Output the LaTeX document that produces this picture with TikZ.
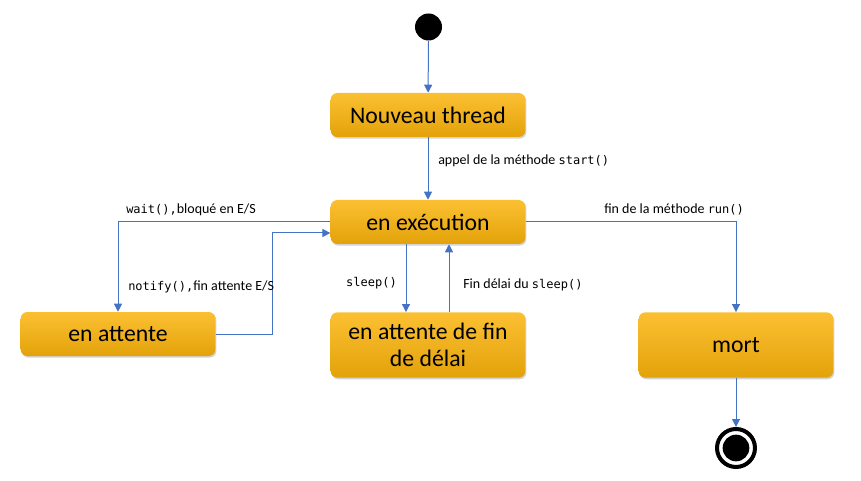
\documentclass[tikz,border=0pt]{standalone}
\usepackage{fontspec}
\setmainfont{Carlito}
\newfontfamily\codefont{DejaVu Sans Mono}
\usetikzlibrary{arrows.meta,shadows,calc}
\definecolor{bleu}{HTML}{4472C4}
\definecolor{ortop}{HTML}{FBC032}
\definecolor{ormid}{HTML}{F9B80A}
\definecolor{orbot}{HTML}{E3A20A}
\newcommand{\code}[1]{{\codefont\fontsize{9}{11}\selectfont #1}}
\tikzset{
	etat/.style = {rounded corners = 5pt, minimum width = 146pt, minimum height = 33pt,
		top color = ortop, middle color = ormid, bottom color = orbot,
		drop shadow = {shadow xshift = .8pt, shadow yshift = -1.2pt, opacity = .35},
		font = \fontsize{17.8}{20}\selectfont, align = center, inner sep = 2pt},
	fl/.style = {draw = bleu, line width = .75pt, -{Triangle[length = 6pt, width = 6pt]}},
	lbl/.style = {font = \fontsize{10.5}{12}\selectfont, inner sep = 0pt},
}
\begin{document}
\begin{tikzpicture}[x = .75pt, y = -.75pt]
	\useasboundingbox (0,0) rectangle (861,481);
	% etats
	\node[circle, fill, inner sep = 0pt, minimum size = 20.25pt] (debut) at (428.5,27) {};
	\node[etat] (nouveau) at (428,115) {Nouveau thread};
	\node[etat] (execution) at (428,222) {en exécution};
	\node[etat] (attente) at (118,334) {en attente};
	\node[etat, minimum height = 49pt] (delai) at (428,345) {en attente de fin\\de délai};
	\node[etat, minimum height = 49pt] (mort) at (736,345) {mort};
	\node[circle, draw, line width = 3pt, inner sep = 0pt, minimum size = 28.5pt] (fin) at (736,448) {};
	\fill (fin) circle (10pt);
	% transitions
	\draw[fl] (debut) -- (nouveau);
	\draw[fl] (nouveau) -- (execution);
	\draw[fl] (execution.west) -| (attente.north);
	\draw[fl] (attente.east) -- ++(57,0) |- ($(execution.west)+(0,11)$);
	\draw[fl] ($(execution.south)+(-22,0)$) -- ($(delai.north)+(-22,0)$);
	\draw[fl] ($(delai.north)+(21,0)$) -- ($(execution.south)+(21,0)$);
	\draw[fl] (execution.east) -| (mort.north);
	\draw[fl] (mort) -- (fin);
	% etiquettes
	\node[lbl, anchor = west] (lstart) at (438,161) {appel de la méthode \code{start()}};
	\node[lbl, anchor = west] (lwait) at (126,210) {\code{wait(),}bloqué en E/S};
	\node[lbl, anchor = west] (lnotify) at (128,287) {\code{notify(),}fin attente E/S};
	\node[lbl, anchor = east] (lsleep) at (397,283) {\code{sleep()}};
	\node[lbl, anchor = west] (lfin) at (463,285) {Fin délai du \code{sleep()}};
	\node[lbl, anchor = west] (lrun) at (604,209) {fin de la méthode \code{run()}};
\end{tikzpicture}
\end{document}
